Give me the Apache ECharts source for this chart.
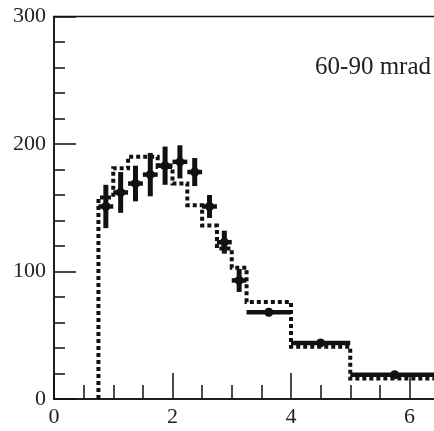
<!DOCTYPE html>
<html>
<head>
<meta charset="utf-8">
<script src="https://cdn.jsdelivr.net/npm/echarts@6/dist/echarts.min.js"></script>
<style>
  html, body { margin: 0; padding: 0; background: #fff; }
  #chart { width: 434px; height: 431px; }
</style>
</head>
<body>
<div id="chart"></div>
<script>
// Bin edges (momentum bins), measured counts with errors,
// and the simulated distribution drawn as a dotted step histogram.
const binLo = [0.75, 1.0, 1.25, 1.5, 1.75, 2.0, 2.25, 2.5, 2.75, 3.0, 3.25, 4.0, 5.0];
const binHi = [1.0, 1.25, 1.5, 1.75, 2.0, 2.25, 2.5, 2.75, 3.0, 3.25, 4.0, 5.0, 6.5];
const dataVal = [151, 162, 169, 176, 183, 186, 178, 151, 123, 93, 68, 44, 19];
const dataErr = [17, 16, 14, 17, 15, 13, 11, 9, 9, 9, 3, 2, 2];
const simVal = [158, 181, 190, 190, 182, 169, 152, 136, 118, 103, 76, 41, 16];
const xTicks = [0, 2, 4, 6];
const yTicks = [0, 100, 200, 300];
const panelLabel = '60-90 mrad';

// Step outline of the simulated histogram, starting from zero at the first edge
const simLine = [[binLo[0], 0]];
simVal.forEach((v, i) => {
  simLine.push([binLo[i], v]);
  simLine.push([binHi[i], v]);
});

const points = dataVal.map((v, i) => [binLo[i], binHi[i], v, dataErr[i]]);

const serif = '"Liberation Serif", "DejaVu Serif", serif';
const chart = echarts.init(document.getElementById('chart'), null, { renderer: 'canvas' });

chart.setOption({
  animation: false,
  backgroundColor: '#fff',
  grid: {
    left: 54, top: 16.5, bottom: 32, right: -94,
    outerBoundsMode: 'none', containLabel: false,
    show: true, borderColor: '#111', borderWidth: 1.5
  },
  xAxis: {
    type: 'value', min: 0, max: 8, interval: 2,
    axisLine: { show: true, lineStyle: { color: '#111', width: 1.5 } },
    axisTick: { show: true, inside: true, length: 26, lineStyle: { color: '#111', width: 1.5 } },
    minorTick: { show: true, splitNumber: 4, length: 14, lineStyle: { color: '#111', width: 1.5 } },
    splitLine: { show: false },
    axisLabel: {
      margin: 7, color: '#222', fontFamily: serif, fontSize: 22,
      formatter: v => xTicks.indexOf(v) >= 0 ? String(v) : ''
    }
  },
  yAxis: {
    type: 'value', min: 0, max: 300, interval: 100,
    axisLine: { show: true, lineStyle: { color: '#111', width: 1.5 } },
    axisTick: { show: true, inside: true, length: 22, lineStyle: { color: '#111', width: 1.5 } },
    minorTick: { show: true, splitNumber: 5, length: 11, lineStyle: { color: '#111', width: 1.5 } },
    splitLine: { show: false },
    axisLabel: {
      margin: 8, color: '#222', fontFamily: serif, fontSize: 22,
      formatter: v => yTicks.indexOf(v) >= 0 ? String(v) : ''
    }
  },
  series: [
    {
      type: 'line',
      data: simLine,
      symbol: 'none',
      z: 2,
      lineStyle: { color: '#111', width: 4, type: [4, 3], cap: 'butt', join: 'miter' }
    },
    {
      type: 'custom',
      data: points,
      z: 3,
      renderItem: (params, api) => {
        const lo = api.value(0), hi = api.value(1), v = api.value(2), e = api.value(3);
        const a = api.coord([lo, v]);
        const b = api.coord([hi, v]);
        const c = api.coord([(lo + hi) / 2, v]);
        const top = api.coord([(lo + hi) / 2, v + e]);
        const bot = api.coord([(lo + hi) / 2, v - e]);
        const style = { stroke: '#111', lineWidth: 4.5, fill: null };
        return {
          type: 'group',
          children: [
            { type: 'line', shape: { x1: a[0], y1: a[1], x2: b[0], y2: b[1] }, style: style },
            { type: 'line', shape: { x1: top[0], y1: top[1], x2: bot[0], y2: bot[1] }, style: Object.assign({}, style, { lineWidth: 5 }) },
            { type: 'circle', shape: { cx: c[0], cy: c[1], r: 4.5 }, style: { fill: '#111' } }
          ]
        };
      }
    }
  ],
  graphic: [
    {
      type: 'text', right: 3, top: 55,
      style: { text: panelLabel, fill: '#222', font: '25px ' + serif }
    }
  ]
});
</script>
</body>
</html>
